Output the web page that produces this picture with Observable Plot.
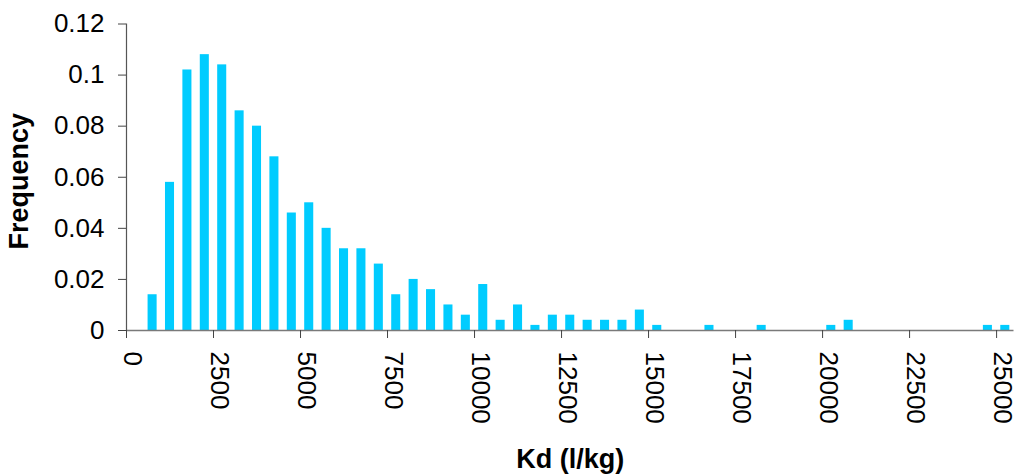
<!DOCTYPE html>
<html>
<head>
<meta charset="utf-8">
<script src="https://cdn.jsdelivr.net/npm/d3@7"></script>
<script src="https://cdn.jsdelivr.net/npm/@observablehq/plot@0.6"></script>
<style>
  body { margin: 0; background: #fff; }
  #chart svg { display: block; }
</style>
</head>
<body>
<div id="chart"></div>
<script>
// Histogram of Kd values: bin centres (l/kg) and relative frequency per 500 l/kg bin
const binCenters = [
  750, 1250, 1750, 2250, 2750, 3250, 3750, 4250, 4750, 5250,
  5750, 6250, 6750, 7250, 7750, 8250, 8750, 9250, 9750, 10250,
  10750, 11250, 11750, 12250, 12750, 13250, 13750, 14250, 14750, 15250,
  15750, 16250, 16750, 17250, 17750, 18250, 18750, 19250, 19750, 20250,
  20750, 21250, 21750, 22250, 22750, 23250, 23750, 24250, 24750, 25250
];
const frequencies = [
  0.014, 0.058, 0.102, 0.108, 0.104, 0.086, 0.080, 0.068, 0.046, 0.050,
  0.040, 0.032, 0.032, 0.026, 0.014, 0.020, 0.016, 0.010, 0.006, 0.018,
  0.004, 0.010, 0.002, 0.006, 0.006, 0.004, 0.004, 0.004, 0.008, 0.002,
  0, 0, 0.002, 0, 0, 0.002, 0, 0, 0, 0.002,
  0.004, 0, 0, 0, 0, 0, 0, 0, 0.002, 0.002
];

const xTicks = [0, 2500, 5000, 7500, 10000, 12500, 15000, 17500, 20000, 22500, 25000];
const xTickLabels = ["0", "2500", "5000", "7500", "10000", "12500", "15000", "17500", "20000", "22500", "25000"];
const yTicks = [0, 0.02, 0.04, 0.06, 0.08, 0.1, 0.12];
const yTickLabels = ["0", "0.02", "0.04", "0.06", "0.08", "0.1", "0.12"];

const xTitle = "Kd (l/kg)";
const yTitle = "Frequency";

const bins = binCenters.map((kd, i) => ({kd, freq: frequencies[i]}));
const halfBar = 130; // half of a column's width, in l/kg
const font = "'Liberation Sans', Arial, Helvetica, sans-serif";

const chart = Plot.plot({
  width: 1020,
  height: 475,
  marginLeft: 126,
  marginRight: 6.5,
  marginTop: 23.5,
  marginBottom: 145,
  style: {fontFamily: font, fontSize: "26px", background: "#fff", color: "#000"},
  x: {type: "linear", domain: [0, 25500], axis: null},
  y: {type: "linear", domain: [0, 0.12], axis: null},
  marks: [
    Plot.rectY(bins, {x1: d => d.kd - halfBar, x2: d => d.kd + halfBar, y: "freq", fill: "#00CCFF"}),
    Plot.ruleY([0], {stroke: "#7a7a7a", strokeWidth: 1.3}),
    Plot.ruleX([0], {stroke: "#555", strokeWidth: 1.2}),
    Plot.axisY({
      ticks: yTicks, tickSize: 8, tickPadding: 14, label: null, stroke: "#444",
      tickFormat: d => yTickLabels[yTicks.indexOf(d)], fontSize: 26
    }),
    Plot.axisX({
      ticks: xTicks, tickSize: 8, label: null, stroke: "#444",
      tickFormat: () => ""
    }),
    Plot.text(xTicks, {
      x: d => d, frameAnchor: "bottom",
      text: d => xTickLabels[xTicks.indexOf(d)],
      rotate: 90, textAnchor: "start", lineAnchor: "middle",
      dx: 6, dy: 21, fontSize: 26
    }),
    Plot.text([yTitle], {
      frameAnchor: "left", rotate: -90, textAnchor: "middle", lineAnchor: "middle",
      dx: -107.5, dy: 4, fontSize: 27, fontWeight: "bold"
    }),
    Plot.text([xTitle], {
      frameAnchor: "bottom", textAnchor: "middle", lineAnchor: "bottom",
      dy: 137, fontSize: 27, fontWeight: "bold"
    })
  ]
});

document.getElementById("chart").appendChild(chart);
</script>
</body>
</html>
